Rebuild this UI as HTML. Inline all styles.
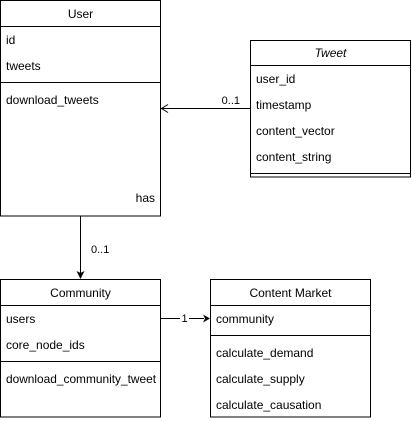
<!DOCTYPE html>
<html><head><meta charset="utf-8"><style>html,body{margin:0;padding:0;background:#fff}svg{display:block}</style></head>
<body>
<svg width="412" height="421" viewBox="0 0 412 421" xmlns="http://www.w3.org/2000/svg" font-family="Liberation Sans, Arial, sans-serif" font-size="12" fill="#000">
<g fill="none" stroke="#000" stroke-width="1">
<rect x="0.5" y="0.5" width="160" height="215.5"/>
<line x1="0.5" y1="26.5" x2="160.5" y2="26.5"/>
<line x1="0.5" y1="82.5" x2="160.5" y2="82.5"/>
<rect x="250.5" y="40.5" width="160" height="136.5"/>
<line x1="250.5" y1="65.5" x2="410.5" y2="65.5"/>
<line x1="250.5" y1="173.5" x2="410.5" y2="173.5"/>
<rect x="0.5" y="279.5" width="160" height="137.5"/>
<line x1="0.5" y1="305.5" x2="160.5" y2="305.5"/>
<line x1="0.5" y1="361.5" x2="160.5" y2="361.5"/>
<rect x="210.5" y="279.5" width="160" height="137.5"/>
<line x1="210.5" y1="305.5" x2="370.5" y2="305.5"/>
<line x1="210.5" y1="335.5" x2="370.5" y2="335.5"/>
<line x1="250" y1="108.5" x2="162" y2="108.5"/>
<polyline points="168,104.5 161.5,108.5 168,112.5"/>
<line x1="80.5" y1="216" x2="80.5" y2="273"/>
<line x1="160.5" y1="318.5" x2="204" y2="318.5"/>
</g>
<polygon points="76.5,271 80.5,279 84.5,271 80.5,273" fill="#000"/>
<polygon points="203,314.5 210,318.5 203,322.5 205,318.5" fill="#000"/>
<rect x="180" y="312" width="9" height="12" fill="#fff"/>
<text x="184.5" y="322" text-anchor="middle" font-size="11">1</text>
<text x="80.5" y="18" text-anchor="middle">User</text>
<text x="6" y="44">id</text>
<text x="6" y="70">tweets</text>
<text x="6" y="104">download_tweets</text>
<text x="155" y="202" text-anchor="end">has</text>
<text x="330.5" y="57" text-anchor="middle" font-style="italic">Tweet</text>
<text x="256" y="83">user_id</text>
<text x="256" y="109">timestamp</text>
<text x="256" y="135">content_vector</text>
<text x="256" y="161">content_string</text>
<text x="240" y="104" text-anchor="end" font-size="11">0..1</text>
<text x="91" y="253" font-size="11">0..1</text>
<text x="80.5" y="297" text-anchor="middle">Community</text>
<text x="6" y="323">users</text>
<text x="6" y="349">core_node_ids</text>
<text x="6" y="383" textLength="150" lengthAdjust="spacingAndGlyphs">download_community_tweet</text>
<text x="290.5" y="297" text-anchor="middle">Content Market</text>
<text x="216" y="323">community</text>
<text x="216" y="357">calculate_demand</text>
<text x="216" y="383">calculate_supply</text>
<text x="216" y="409">calculate_causation</text>
</svg>
</body></html>
